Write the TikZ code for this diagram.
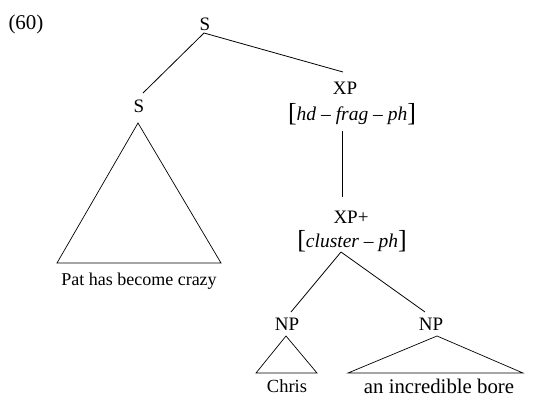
\documentclass[tikz,border=0pt]{standalone}
\usepackage{fontspec}
\setmainfont{Liberation Serif}
\newcommand{\lbrk}{{\fontsize{26}{26}\selectfont\raisebox{-1pt}{[}}}
\newcommand{\rbrk}{{\fontsize{26}{26}\selectfont\raisebox{-1pt}{]}}}
\begin{document}
\begin{tikzpicture}[x=1pt,y=-1pt,
  lbl/.style={inner sep=0pt,font=\fontsize{19}{21}\selectfont},
  feat/.style={inner sep=0pt,font=\fontsize{19.5}{21}\selectfont},
  edge/.style={line width=0.8pt,black},
  tri/.style={line width=0.7pt,black}]
\useasboundingbox (0,0) rectangle (538,397);
\node[lbl,font=\fontsize{21}{23}\selectfont] (ex) at (26,24) {(60)};
\node[lbl] (S) at (205,24) {S};
\node[lbl] (Sl) at (139,106) {S};
\node[lbl] (XP) at (345,88) {XP};
\node[feat] (fXP) at (352,114) {\lbrk\textit{hd} – \textit{frag} – \textit{ph}\rbrk};
\node[lbl] (XPp) at (351,217) {XP+};
\node[feat] (fXPp) at (352,241) {\lbrk\textit{cluster} – \textit{ph}\rbrk};
\node[lbl] (NPa) at (287,324) {NP};
\node[lbl] (NPb) at (431,324) {NP};
\node[lbl,font=\fontsize{18}{20}\selectfont] (pat) at (139,281) {Pat has become crazy};
\node[lbl,font=\fontsize{18.5}{20}\selectfont] (chris) at (287,386) {Chris};
\node[lbl,font=\fontsize{20.8}{22}\selectfont] (bore) at (439,386) {an incredible bore};
% connector end points
\coordinate (Sb) at (204,33);
\coordinate (Slt) at (143,93);
\coordinate (XPt) at (343,72);
\coordinate (fXPb) at (342,131);
\coordinate (XPpt) at (342,197);
\coordinate (fXPpb) at (341,252);
\coordinate (NPat) at (291,312);
\coordinate (NPbt) at (425,312);
\draw[edge] (Sb) -- (Slt);
\draw[edge] (Sb) -- (XPt);
\draw[edge] (fXPb) -- (XPpt);
\draw[edge] (fXPpb) -- (NPat);
\draw[edge] (fXPpb) -- (NPbt);
% triangles
\draw[tri] (138,123) -- (57,263) -- (221,263) -- cycle;
\draw[tri] (286,336) -- (256,373) -- (317,373) -- cycle;
\draw[tri] (437,336) -- (348,373) -- (523,373) -- cycle;
\end{tikzpicture}
\end{document}
